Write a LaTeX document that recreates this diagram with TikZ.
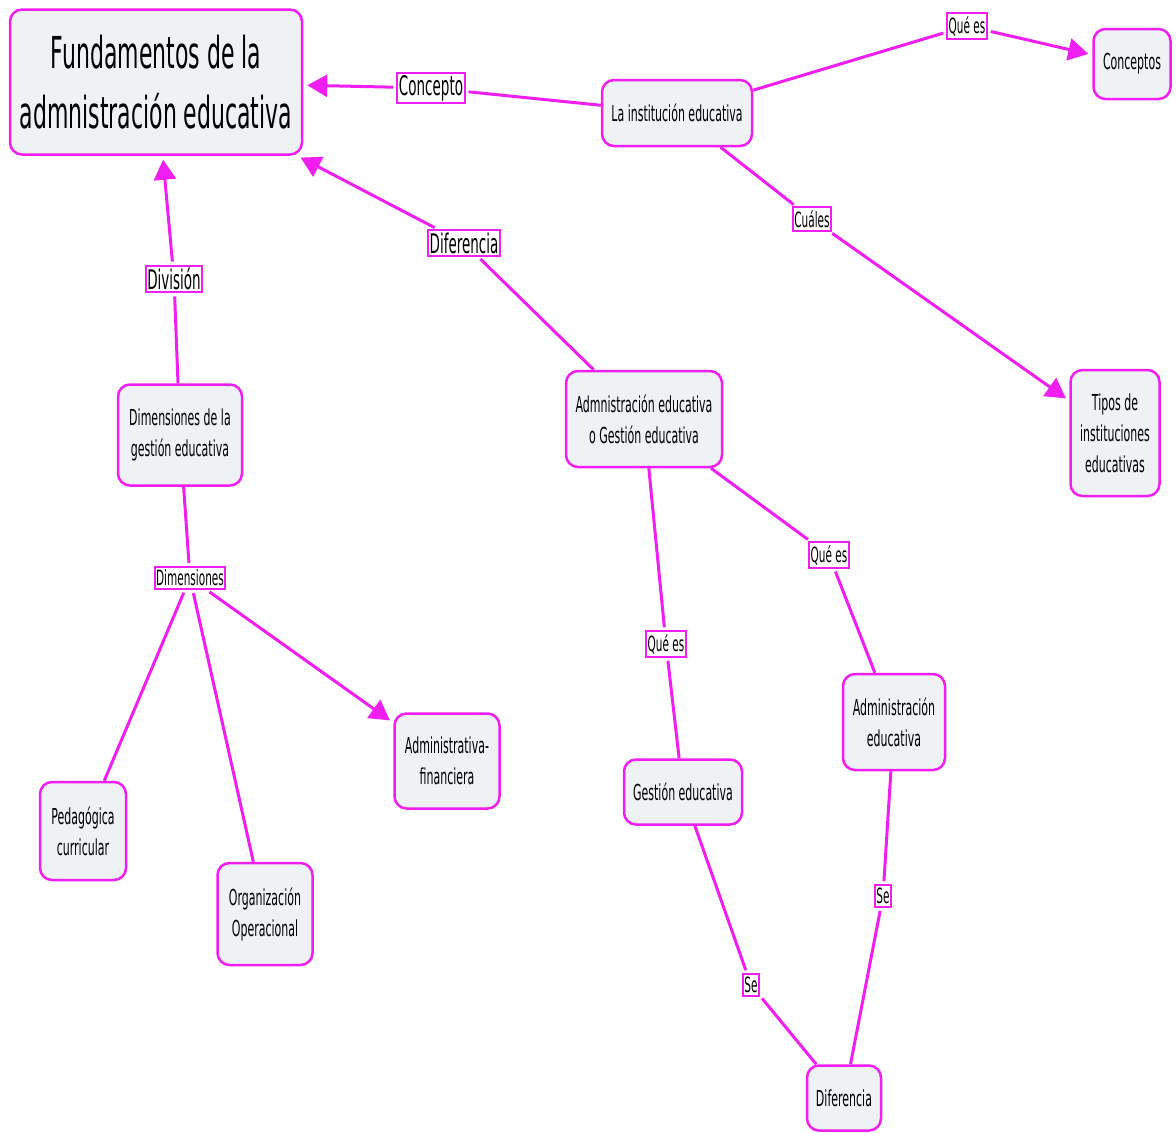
\documentclass[tikz,border=0pt]{standalone}
\usepackage{fontspec}
\setmainfont{DejaVu Sans}[FakeStretch=0.5]
\usepackage{tikz}
\usetikzlibrary{arrows.meta}
\definecolor{mapline}{RGB}{240,30,240}
\definecolor{mapfill}{RGB}{238,242,245}
\tikzset{conceptnode/.style={rectangle, rounded corners=12pt, draw=mapline, fill=mapfill, line width=2.5pt, align=center, inner sep=2pt, font=\fontsize{22}{31}\selectfont}}
\tikzset{linknode/.style={rectangle, draw=mapline, fill=white, line width=2pt, inner xsep=1.5pt, inner ysep=3pt, font=\fontsize{21}{25}\selectfont}}
\tikzset{biglink/.style={linknode, inner ysep=2.5pt, font=\fontsize{27}{30}\selectfont}}
\tikzset{maparrow/.style={-{Triangle[length=20pt,width=22pt]}, shorten >=4pt}}

\begin{document}
\begin{tikzpicture}[x=1pt, y=-1pt, line width=3pt, draw=mapline]
    \useasboundingbox (0,0) rectangle (1176,1133);

    \node[conceptnode, minimum width=292pt, minimum height=145pt, font=\fontsize{44}{60}\selectfont]
                          (fundamentos)   at (156,82)     {Fundamentos de la\\admnistración educativa};
    \node[conceptnode, minimum width=150pt, minimum height=66pt]  (institucion)   at (677,113)    {La institución educativa};
    \node[conceptnode, minimum width=77pt, minimum height=70pt]   (conceptos)     at (1132,64)    {Conceptos};
    \node[conceptnode, minimum width=89pt, minimum height=126pt]  (tipos)         at (1115,433)   {Tipos de\\instituciones\\educativas};
    \node[conceptnode, minimum width=156pt, minimum height=96pt]  (admgestion)    at (644,419)    {Admnistración educativa\\o Gestión educativa};
    \node[conceptnode, minimum width=124pt, minimum height=101pt] (dimgestion)    at (180,435)    {Dimensiones de la\\gestión educativa};
    \node[conceptnode, minimum width=105pt, minimum height=95pt]  (adminfin)      at (447,761)    {Administrativa-\\financiera};
    \node[conceptnode, minimum width=86pt, minimum height=98pt]   (pedagogica)    at (83,831)     {Pedagógica\\curricular};
    \node[conceptnode, minimum width=95pt, minimum height=102pt]  (organizacion)  at (265,914)    {Organización\\Operacional};
    \node[conceptnode, minimum width=118pt, minimum height=65pt]  (gestion)       at (683,792)    {Gestión educativa};
    \node[conceptnode, minimum width=102pt, minimum height=96pt]  (adminedu)      at (894,722)    {Administración\\educativa};
    \node[conceptnode, minimum width=74pt, minimum height=65pt]   (diferencia)    at (844,1098)   {Diferencia};

    \node[biglink]        (concepto)      at (431,88)     {Concepto};
    \node[biglink]        (difer)         at (464,243)    {Diferencia};
    \node[biglink]        (division)      at (174,279)    {División};
    \node[linknode]       (quees)         at (967,26)     {Qué es};
    \node[linknode]       (cuales)        at (812,219)    {Cuáles};
    \node[linknode]       (dimensiones)   at (190,578)    {Dimensiones};
    \node[linknode]       (queesmed)      at (666,644)    {Qué es};
    \node[linknode]       (queesder)      at (829,555)    {Qué es};
    \node[linknode]       (seizq)         at (751,985)    {Se};
    \node[linknode]       (seder)         at (883,896)    {Se};

    \draw[shorten >=3pt] (institucion) -- (concepto);
    \draw[maparrow, shorten <=3pt] (concepto) -- (fundamentos);
    \draw[shorten >=3pt] (institucion) -- (quees);
    \draw[maparrow, shorten <=3pt] (quees) -- (conceptos);
    \draw[shorten >=3pt] (institucion) -- (cuales);
    \draw[maparrow, shorten <=3pt] (cuales) -- (tipos);
    \draw[shorten >=3pt] (admgestion) -- (difer);
    \draw[maparrow, shorten <=3pt] (difer) -- (fundamentos);
    \draw[shorten >=3pt] (dimgestion) -- (division);
    \draw[maparrow, shorten <=3pt] (division) -- (fundamentos);
    \draw[shorten >=3pt] (dimgestion) -- (dimensiones);
    \draw[shorten <=3pt] (dimensiones) -- (pedagogica);
    \draw[shorten <=3pt] (dimensiones) -- (organizacion);
    \draw[maparrow, shorten <=3pt] (dimensiones) -- (adminfin);
    \draw[shorten >=3pt] (admgestion) -- (queesmed);
    \draw[shorten <=3pt] (queesmed) -- (gestion);
    \draw[shorten >=3pt] (admgestion) -- (queesder);
    \draw[shorten <=3pt] (queesder) -- (adminedu);
    \draw[shorten >=3pt] (gestion) -- (seizq);
    \draw[shorten <=3pt] (seizq) -- (diferencia);
    \draw[shorten >=3pt] (adminedu) -- (seder);
    \draw[shorten <=3pt] (seder) -- (diferencia);
\end{tikzpicture}
\end{document}
